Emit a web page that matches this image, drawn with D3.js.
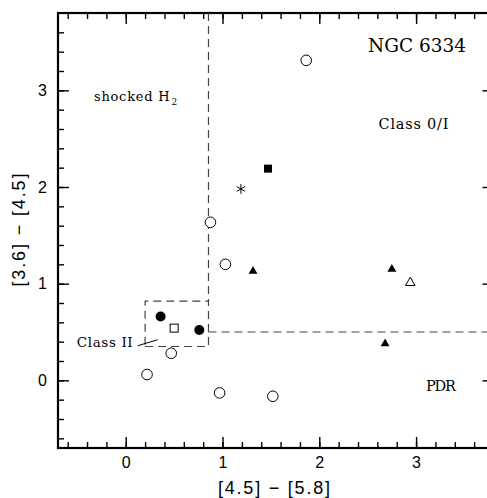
<!DOCTYPE html>
<html lang="en">
<head>
<meta charset="UTF-8">
<title>NGC 6334 colour-colour</title>
<script src="https://d3js.org/d3.v7.min.js"></script>
<style>
    body { margin: 0; background: #fff; }
    svg { display: block; }
    .tick text { font-family: 'Liberation Sans', Arial, sans-serif; font-size: 16px; fill: #000; }
    .lbl { font-family: 'DejaVu Serif', serif; fill: #000; }
</style>
</head>
<body>
<div id="grafico"></div>
<script>
    // points, one list per marker type: [4.5]-[5.8], [3.6]-[4.5]
    const openCircles = [[1.865, 3.31], [0.875, 1.635], [1.03, 1.20], [1.52, -0.165], [0.47, 0.28], [0.22, 0.06], [0.97, -0.13]]
    const filledCircles = [[0.36, 0.66], [0.76, 0.52]]
    const openSquares = [[0.50, 0.54]]
    const filledSquares = [[1.47, 2.19]]
    const filledTriangles = [[1.315, 1.13], [2.75, 1.15], [2.68, 0.38]]
    const openTriangles = [[2.94, 1.01]]
    const asterisks = [[1.19, 1.98]]

    // region boundaries (dashed)
    const vertLine = [[0.855, 3.8], [0.855, 0.82]]
    const classIIBox = [[0.2, 0.35], [0.855, 0.35], [0.855, 0.82], [0.2, 0.82], [0.2, 0.35]]
    const horizLine = [[0.855, 0.5], [3.8, 0.5]]
    const pointer = [[0.124, 0.358], [0.33, 0.42]]

    const majorTicks = [0, 1, 2, 3]
    const minorX = d3.range(-6, 38, 2).map(d => d / 10)
    const minorY = d3.range(-6, 38, 2).map(d => d / 10)

    const W = 487, H = 498
    const mLeft = 58, mTop = 13, mRight = 493.5, mBottom = 448

    const x = d3.scaleLinear().domain([-0.7, 3.8]).range([mLeft, mRight])
    const y = d3.scaleLinear().domain([-0.7, 3.8]).range([mBottom, mTop])

    var svg = d3.select('#grafico').append('svg')
        .attr('width', W)
        .attr('height', H)

    // ticks on all four sides, pointing in
    function ticks(axis, tr, minor, major, labels) {
        const g1 = svg.append('g').attr('transform', tr)
            .call(axis.tickValues(minor).tickSize(-6).tickFormat(''))
        g1.select('.domain').remove()
        g1.selectAll('line').attr('stroke-width', 1.4)
        const g2 = svg.append('g').attr('transform', tr)
            .call(axis.tickValues(major).tickSize(-11).tickFormat(labels ? d3.format('d') : ''))
        g2.select('.domain').remove()
        g2.selectAll('line').attr('stroke-width', 1.4)
        return g2
    }

    ticks(d3.axisBottom(x).tickPadding(9), `translate(0,${mBottom})`, minorX, majorTicks, true)
    ticks(d3.axisTop(x), `translate(0,${mTop})`, minorX, majorTicks, false)
    ticks(d3.axisLeft(y).tickPadding(11), `translate(${mLeft},0)`, minorY, majorTicks, true)
    ticks(d3.axisRight(y), `translate(${mRight},0)`, minorY, majorTicks, false)

    svg.append('rect')
        .attr('x', mLeft).attr('y', mTop)
        .attr('width', mRight - mLeft).attr('height', mBottom - mTop)
        .attr('fill', 'none').attr('stroke', '#000').attr('stroke-width', 2.2)

    const line = d3.line().x(d => x(d[0])).y(d => y(d[1]))

    ;[vertLine, classIIBox, horizLine].forEach(pts => {
        svg.append('path').attr('d', line(pts))
            .attr('fill', 'none').attr('stroke', '#444')
            .attr('stroke-width', 1.2).attr('stroke-dasharray', '8,5')
    })
    svg.append('path').attr('d', line(pointer))
        .attr('fill', 'none').attr('stroke', '#000').attr('stroke-width', 1)

    // markers
    svg.append('g').selectAll('circle').data(openCircles).enter().append('circle')
        .attr('cx', d => x(d[0])).attr('cy', d => y(d[1])).attr('r', 5.3)
        .attr('fill', '#fff').attr('stroke', '#000').attr('stroke-width', 1)

    svg.append('g').selectAll('circle').data(filledCircles).enter().append('circle')
        .attr('cx', d => x(d[0])).attr('cy', d => y(d[1])).attr('r', 5)
        .attr('fill', '#000')

    svg.append('g').selectAll('rect').data(openSquares).enter().append('rect')
        .attr('x', d => x(d[0]) - 4).attr('y', d => y(d[1]) - 4)
        .attr('width', 8).attr('height', 8)
        .attr('fill', '#fff').attr('stroke', '#000').attr('stroke-width', 1)

    svg.append('g').selectAll('rect').data(filledSquares).enter().append('rect')
        .attr('x', d => x(d[0]) - 4).attr('y', d => y(d[1]) - 4)
        .attr('width', 8).attr('height', 8)
        .attr('fill', '#000')

    const tri = d3.symbol().type(d3.symbolTriangle).size(34)
    svg.append('g').selectAll('path').data(filledTriangles).enter().append('path')
        .attr('d', tri)
        .attr('transform', d => `translate(${x(d[0])},${y(d[1])})`)
        .attr('fill', '#000')

    svg.append('g').selectAll('path').data(openTriangles).enter().append('path')
        .attr('d', d3.symbol().type(d3.symbolTriangle).size(40))
        .attr('transform', d => `translate(${x(d[0])},${y(d[1])})`)
        .attr('fill', '#fff').attr('stroke', '#000').attr('stroke-width', 1)

    svg.append('g').selectAll('path').data(asterisks).enter().append('path')
        .attr('d', d3.symbol().type(d3.symbolAsterisk).size(65))
        .attr('transform', d => `translate(${x(d[0])},${y(d[1])})`)
        .attr('fill', 'none').attr('stroke', '#000').attr('stroke-width', 1)

    // region labels
    function label(txt, tx, ty, size, len) {
        return svg.append('text').attr('class', 'lbl')
            .attr('x', tx).attr('y', ty)
            .attr('font-size', size)
            .attr('textLength', len).attr('lengthAdjust', 'spacing')
            .text(txt)
    }
    label('shocked H', 94, 100.7, 13, 75.5)
    svg.append('text').attr('class', 'lbl').attr('x', 171.5).attr('y', 104.5)
        .attr('font-size', 9).text('2')
    label('NGC 6334', 368, 51.7, 18.5, 98)
    label('Class 0/I', 378.5, 129.3, 14.5, 70)
    label('PDR', 426, 390.7, 14.5, 30)
    label('Class II', 76.7, 346.7, 13.5, 56)

    // axis titles
    svg.append('text')
        .attr('x', 274).attr('y', 494)
        .attr('text-anchor', 'middle')
        .attr('font-family', "'Liberation Sans', Arial, sans-serif")
        .attr('font-size', 18)
        .attr('textLength', 112).attr('lengthAdjust', 'spacing')
        .text('[4.5] − [5.8]')

    svg.append('text')
        .attr('transform', 'translate(25,230) rotate(-90)')
        .attr('text-anchor', 'middle')
        .attr('font-family', "'Liberation Sans', Arial, sans-serif")
        .attr('font-size', 18)
        .attr('textLength', 113).attr('lengthAdjust', 'spacing')
        .text('[3.6] − [4.5]')
</script>
</body>
</html>
